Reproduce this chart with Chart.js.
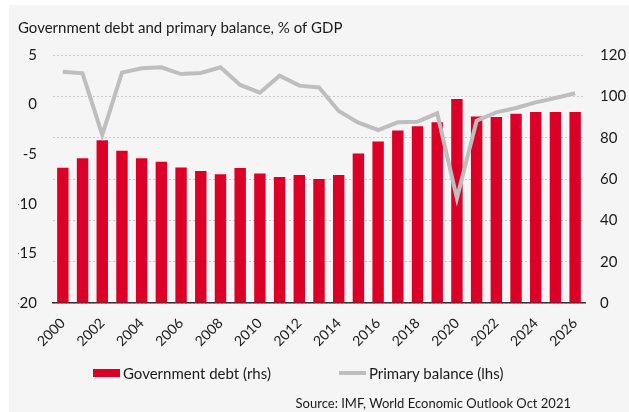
<!DOCTYPE html>
<html lang="en">
<head>
<meta charset="UTF-8">
<title>Government debt and primary balance</title>
<script src="https://cdn.jsdelivr.net/npm/chart.js/dist/chart.umd.min.js"></script>
<style>
  body {
    margin: 0;
    background: #fff;
    font-family: Lato, "DejaVu Sans", sans-serif;
    color: #1a1a1a;
  }
  .panel {
    position: absolute;
    left: 9px;
    top: 5px;
    width: 620px;
    height: 407px;
    background: #f5f5f5;
  }
  #debtChart {
    position: absolute;
    left: 0;
    top: 0;
  }
  /* legend built from the datasets below */
  #legend {
    position: absolute;
    left: 84px;
    top: 357px;
    display: flex;
    font-size: 15px;
    line-height: 22px;
  }
  #legend .item {
    display: flex;
    align-items: center;
    margin-right: 68px;
  }
  #legend .swatch {
    width: 27px;
    margin-right: 3px;
  }
  #source {
    position: absolute;
    right: 58px;
    top: 390px;
    font-size: 13px;
  }
</style>
</head>
<body>
<div class="panel">
  <canvas id="debtChart" width="620" height="407"></canvas>
  <div id="legend"></div>
  <div id="source">Source: IMF, World Economic Outlook Oct 2021</div>
</div>
<script>
// data
const years = ['2000', '2001', '2002', '2003', '2004', '2005', '2006', '2007', '2008',
  '2009', '2010', '2011', '2012', '2013', '2014', '2015', '2016', '2017', '2018',
  '2019', '2020', '2021', '2022', '2023', '2024', '2025', '2026'];
// government debt, % of GDP (right axis)
const govDebt = [65.5, 70.0, 78.7, 73.7, 70.0, 68.4, 65.6, 63.9, 62.3, 65.3, 62.7,
  61.0, 61.9, 60.0, 61.9, 72.3, 78.2, 83.5, 85.5, 87.4, 98.7, 90.3, 90.0, 91.6,
  92.4, 92.4, 92.4];
// primary balance, % of GDP (left axis)
const primaryBalance = [3.32, 3.15, -3.06, 3.22, 3.66, 3.76, 3.08, 3.19, 3.76, 1.98,
  1.20, 2.92, 1.91, 1.72, -0.65, -1.82, -2.56, -1.79, -1.72, -0.88, -9.45, -1.62,
  -0.78, -0.34, 0.23, 0.66, 1.14];

const fontName = 'Lato, "DejaVu Sans", sans-serif';
const textColor = '#1a1a1a';

const myChart = new Chart(document.getElementById('debtChart'), {
  data: {
    labels: years,
    datasets: [
      {
        type: 'line',
        label: 'Primary balance (lhs)',
        data: primaryBalance,
        yAxisID: 'y',
        borderColor: '#bebebe',
        backgroundColor: '#bebebe',
        borderWidth: 4,
        pointRadius: 0,
        tension: 0,
        order: 0
      },
      {
        type: 'bar',
        label: 'Government debt (rhs)',
        data: govDebt,
        yAxisID: 'y1',
        backgroundColor: '#dc0028',
        categoryPercentage: 1,
        barPercentage: 0.58,
        order: 1
      }
    ]
  },
  options: {
    responsive: false,
    animation: false,
    layout: {
      padding: { left: 9, right: 0, top: 0, bottom: 0 }
    },
    scales: {
      x: {
        grid: { display: false, drawTicks: false },
        border: { display: true, color: '#333', width: 1.5 },
        afterFit: (scale) => { scale.height = 109; },
        ticks: {
          autoSkip: false,
          maxRotation: 45,
          minRotation: 45,
          padding: 12,
          color: textColor,
          font: { family: fontName, size: 14 },
          callback: function (val, i) {
            return i % 2 === 0 ? this.getLabelForValue(val) : '';
          }
        }
      },
      y: {
        position: 'left',
        min: -20,
        max: 5,
        grid: { display: false, drawTicks: false },
        border: { display: false },
        afterFit: (scale) => { scale.width = 35; },
        ticks: {
          stepSize: 5,
          padding: 16,
          color: textColor,
          font: { family: fontName, size: 15 }
        }
      },
      y1: {
        position: 'right',
        min: 0,
        max: 120,
        grid: { color: '#c8c8c8', drawTicks: false },
        border: { display: false, dash: [2, 2] },
        afterFit: (scale) => { scale.width = 44; },
        ticks: {
          stepSize: 20,
          padding: 15,
          color: textColor,
          font: { family: fontName, size: 15 }
        }
      }
    },
    plugins: {
      title: {
        display: true,
        text: 'Government debt and primary balance, % of GDP',
        align: 'start',
        color: textColor,
        font: { family: fontName, size: 15, weight: 'normal' },
        padding: { top: 14, bottom: 18 }
      },
      legend: { display: false },
      tooltip: { enabled: false }
    }
  }
});

// html legend: bar first, then the line
const legendBox = document.getElementById('legend');
[...myChart.data.datasets].sort((a, b) => b.order - a.order).forEach(ds => {
  const item = document.createElement('div');
  item.className = 'item';
  const swatch = document.createElement('span');
  swatch.className = 'swatch';
  if (ds.type === 'bar') {
    swatch.style.height = '8px';
    swatch.style.background = ds.backgroundColor;
  } else {
    swatch.style.height = ds.borderWidth + 'px';
    swatch.style.background = ds.borderColor;
  }
  const label = document.createElement('span');
  label.textContent = ds.label;
  item.appendChild(swatch);
  item.appendChild(label);
  legendBox.appendChild(item);
});
</script>
</body>
</html>
